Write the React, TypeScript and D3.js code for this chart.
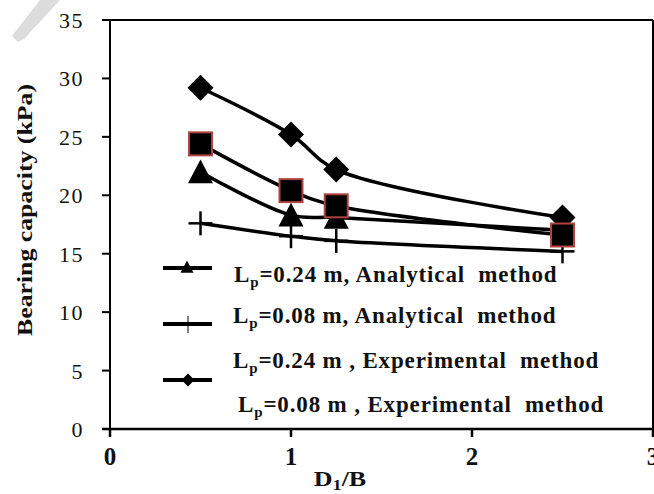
import * as d3 from 'd3'

const ratios = [0.5, 1, 1.25, 2.5]
const expLp024 = [29.2, 25.2, 22.2, 18.1]
const expLp008 = [24.4, 20.4, 19.1, 16.6]
const anaLp024 = [22.0, 18.3, 18.1, 17.0]
const anaLp008 = [17.6, 16.5, 16.1, 15.2]

const xTicks = [0, 1, 2, 3]
const yTicks = [0, 5, 10, 15, 20, 25, 30, 35]

const W = 654
const H = 494
const left = 110
const right = 653
const top = 20
const bottom = 429

const serif = "'Liberation Serif', 'Times New Roman', serif"

type Marker = 'diamond' | 'square' | 'triangle' | 'plus'

function MarkerShape({ kind, x, y, s }: { kind: Marker; x: number; y: number; s: number }) {
  const h = s / 2
  if (kind === 'diamond') {
    return <path d={`M${x},${y - h}L${x + h},${y}L${x},${y + h}L${x - h},${y}Z`} fill="#000" />
  }
  if (kind === 'square') {
    return <rect x={x - h} y={y - h} width={s} height={s} fill="#000" stroke="#b0433f" strokeWidth={2} />
  }
  if (kind === 'triangle') {
    return <path d={`M${x},${y - h}L${x + h},${y + h * 0.9}L${x - h},${y + h * 0.9}Z`} fill="#000" />
  }
  return (
    <g stroke="#000" strokeWidth={2.5}>
      <line x1={x - h} x2={x + h} y1={y} y2={y} />
      <line x1={x} x2={x} y1={y - h} y2={y + h} />
    </g>
  )
}

const seriesList: { values: number[]; marker: Marker; size: number }[] = [
  { values: anaLp008, marker: 'plus', size: 24 },
  { values: anaLp024, marker: 'triangle', size: 25 },
  { values: expLp024, marker: 'diamond', size: 26 },
  { values: expLp008, marker: 'square', size: 23 },
]

function LegendLabel({ x, y, rest }: { x: number; y: number; rest: string }) {
  // y is the baseline
  return (
    <text x={x} y={y} fontFamily={serif} fontWeight="bold" fontSize={23}
      style={{ whiteSpace: 'pre', letterSpacing: '0.85px' }} fill="#111">
      L<tspan fontSize={15} dy={5}>p</tspan><tspan dy={-5}>{rest}</tspan>
    </text>
  )
}

export default function App() {
  const x = d3.scaleLinear().domain([0, 3]).range([left, right])
  const y = d3.scaleLinear().domain([0, 35]).range([bottom, top])
  const line = d3.line<number>()
    .x((_, i) => x(ratios[i]))
    .y(d => y(d))
    .curve(d3.curveCatmullRom.alpha(0.5))

  return (
    <svg width={W} height={H} style={{ position: 'absolute', left: 0, top: 0, background: '#fff' }}>
      {/* watermark fragment */}
      <path d="M12,36 L40,0 L60,0 L24,39 L18,42 Z" fill="#dcdcdc" />

      {/* frame */}
      <line x1={left - 8} x2={right} y1={top} y2={top} stroke="#000" strokeWidth={2} />
      <line x1={right} x2={right} y1={top} y2={bottom} stroke="#000" strokeWidth={2} />
      <line x1={left} x2={left} y1={top} y2={bottom} stroke="#000" strokeWidth={2} />
      <line x1={left - 8} x2={right} y1={bottom} y2={bottom} stroke="#000" strokeWidth={2.5} />

      {yTicks.map(t => (
        <g key={t}>
          <line x1={left - 8} x2={left} y1={y(t)} y2={y(t)} stroke="#000" strokeWidth={2} />
          <text x={left - 26} y={y(t) + 8} textAnchor="end"
            fontFamily={serif} fontSize={22} fill="#111" style={{ letterSpacing: '1.5px' }}>{t}</text>
        </g>
      ))}
      {xTicks.map(t => (
        <g key={t}>
          <line x1={x(t)} x2={x(t)} y1={bottom} y2={bottom + 8} stroke="#000" strokeWidth={2.5} />
          <text x={x(t)} y={bottom + 36} textAnchor="middle"
            fontFamily={serif} fontWeight="bold" fontSize={25} fill="#111">{t}</text>
        </g>
      ))}

      <g transform="translate(340,486) scale(1.3,1)">
        <text x={0} y={0} textAnchor="middle"
          fontFamily={serif} fontWeight="bold" fontSize={20} fill="#111">
          D<tspan fontSize={14} dy={4}>1</tspan><tspan dy={-4}>/B</tspan>
        </text>
      </g>
      <text transform={`translate(25,${210}) rotate(-90)`} textAnchor="middle" dominantBaseline="central"
        fontFamily={serif} fontWeight="bold" fontSize={20} fill="#111"
        textLength={252} lengthAdjust="spacingAndGlyphs">
        Bearing capacity (kPa)
      </text>

      {seriesList.map((s, i) => (
        <path key={i} d={line(s.values) ?? ''} fill="none" stroke="#000" strokeWidth={3.5} />
      ))}
      {seriesList.map((s, i) => (
        <g key={i}>
          {s.values.map((v, j) => (
            <MarkerShape key={j} kind={s.marker} x={x(ratios[j])} y={y(v)} s={s.size} />
          ))}
        </g>
      ))}

      {/* legend */}
      <g>
        <line x1={163} x2={212} y1={268} y2={268} stroke="#000" strokeWidth={4} />
        <MarkerShape kind="triangle" x={187} y={267} s={13} />
        <LegendLabel x={234} y={282} rest="=0.24 m, Analytical  method" />

        <line x1={163} x2={212} y1={324} y2={324} stroke="#000" strokeWidth={4} />
        <line x1={188} x2={188} y1={316} y2={333} stroke="#000" strokeWidth={1} />
        <LegendLabel x={233} y={323} rest="=0.08 m, Analytical  method" />

        <line x1={163} x2={212} y1={380} y2={380} stroke="#000" strokeWidth={4} />
        <MarkerShape kind="diamond" x={188} y={380} s={13} />
        <LegendLabel x={233} y={368} rest="=0.24 m , Experimental  method" />

        <LegendLabel x={238} y={412} rest="=0.08 m , Experimental  method" />
      </g>
    </svg>
  )
}
